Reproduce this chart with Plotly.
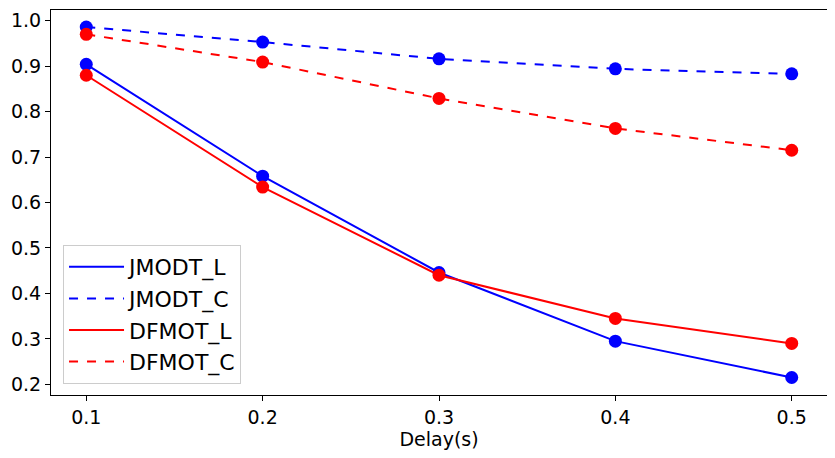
import plotly.graph_objects as go

delay = [0.1, 0.2, 0.3, 0.4, 0.5]
jmodt_l = [0.904, 0.658, 0.446, 0.295, 0.215]
jmodt_c = [0.986, 0.953, 0.916, 0.894, 0.883]
dfmot_l = [0.880, 0.634, 0.440, 0.345, 0.290]
dfmot_c = [0.970, 0.909, 0.829, 0.763, 0.715]

series = [
    ('JMODT_L', jmodt_l, 'blue', 'solid'),
    ('JMODT_C', jmodt_c, 'blue', 'dash'),
    ('DFMOT_L', dfmot_l, 'red', 'solid'),
    ('DFMOT_C', dfmot_c, 'red', 'dash'),
]

fig = go.Figure()
for name, vals, color, dash in series:
    # line only in legend, markers drawn as separate trace
    fig.add_trace(go.Scatter(x=delay, y=vals, name=name, mode='lines',
                             line=dict(color=color, width=2, dash=dash)))
    fig.add_trace(go.Scatter(x=delay, y=vals, mode='markers', showlegend=False,
                             marker=dict(color=color, size=13)))

axis_common = dict(showline=True, linewidth=1, linecolor='black', mirror=True,
                   ticks='outside', ticklen=5, tickcolor='black', showgrid=False,
                   zeroline=False, automargin=False, tickfont=dict(size=19, color='black'))
fig.update_xaxes(range=[0.08, 0.52], tickvals=delay, ticktext=['0.1', '0.2', '0.3', '0.4', '0.5'],
                 title=dict(text='Delay(s)', font=dict(size=19, color='black'), standoff=2),
                 **axis_common)
fig.update_yaxes(range=[0.1765, 1.0235], tickvals=[0.2, 0.3, 0.4, 0.5, 0.6, 0.7, 0.8, 0.9, 1.0],
                 tickformat='.1f', **axis_common)
# page body has an 8px margin, so the figure is shrunk by that much
fig.update_layout(width=827, height=450, margin=dict(l=43, r=8, t=2, b=63),
                  plot_bgcolor='white', paper_bgcolor='white',
                  font=dict(family='DejaVu Sans', color='black'),
                  legend=dict(x=0.0155, y=0.0286, xanchor='left', yanchor='bottom',
                              bgcolor='rgba(255,255,255,0.8)', bordercolor='#cccccc',
                              borderwidth=1, font=dict(size=22), itemwidth=55))
fig.write_html("out.html")
